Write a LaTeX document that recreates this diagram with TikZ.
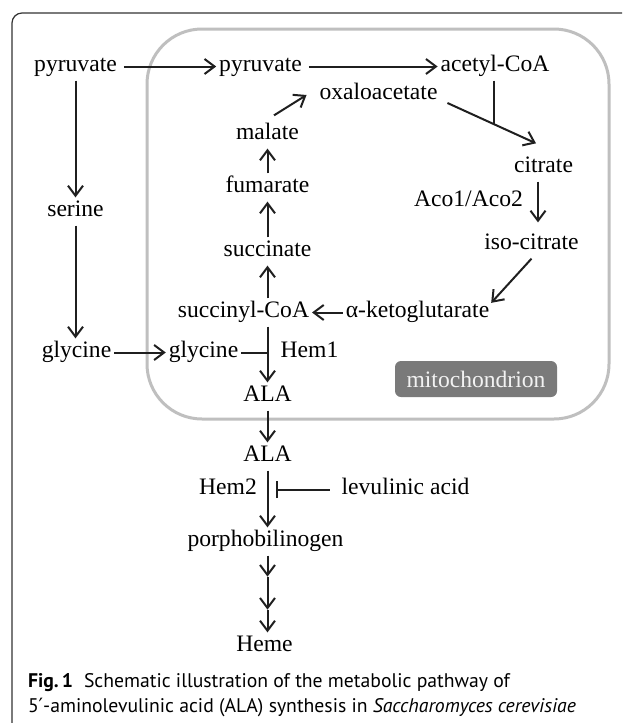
\documentclass[tikz,border=0pt]{standalone}
\usepackage{fontspec}
\setmainfont{Liberation Serif}
\newfontfamily\capfont{PT Sans}
\newfontfamily\primefont{DejaVu Sans}
\usetikzlibrary{calc,arrows.meta}

\tikzset{%
  >={Straight Barb[length=10pt,width=15pt]}, % open arrow heads
  inner sep=0pt,%
  outer sep=3pt,%
  metab/.style={text height=16.6pt,text depth=5.7pt},%
  reaction/.style={->,line width=2pt,draw=black!88},%
  plain/.style={line width=2pt,draw=black!88},%
  inhibit/.style={-{Bar[width=17pt]},line width=2pt,draw=black!88},%
  membrane/.style={draw=black!25,line width=3pt,rounded corners=55pt},%
  mitolabel/.style={fill=black!52,rounded corners=6pt,text=black!5,
    minimum width=162pt,minimum height=36pt},%
  frame/.style={draw=black!80,line width=1.2pt,rounded corners=10pt},%
  caption/.style={font=\capfont\fontsize{19.7}{25}\selectfont,outer sep=0pt,
    anchor=base west}%
}

\begin{document}
\begin{tikzpicture}[x=1pt,y=-1pt,font=\fontsize{23.6}{28}\selectfont]

%% page and outer frame

\useasboundingbox (0,0) rectangle (622,723);
\clip (0,0) rectangle (622,723);
\draw[frame] (12,780) -- (12,13) -- (680,13);

%% mitochondrion

\draw[membrane] (147,29) rectangle (609,419);
\node[mitolabel] (mito) at (476,379) {mitochondrion};

%% metabolites and enzymes

\node[metab] (pyr1) at (75.5,66.5) {pyruvate};
\node[metab] (pyr2) at (260.5,66.5) {pyruvate};
\node[metab] (acoa) at (495,66.5) {acetyl-CoA};
\node[metab] (oaa) at (378.5,94.5) {oxaloacetate};
\node[metab] (mal) at (267.5,134.5) {malate};
\node[metab] (fum) at (267.5,187.5) {fumarate};
\node[metab] (ser) at (75.5,211.5) {serine};
\node[metab] (cit) at (543.5,167.5) {citrate};
\node[metab] (aco) at (468.5,201.5) {Aco1/Aco2};
\node[metab] (icit) at (531.5,244.5) {iso-citrate};
\node[metab] (suc) at (267.5,251.5) {succinate};
\node[metab] (sccoa) at (243.5,312.5) {succinyl-CoA};
\node[metab] (akg) at (417.5,312.5) {α-ketoglutarate};
\node[metab] (gly1) at (76.5,352.5) {glycine};
\node[metab] (gly2) at (203.5,352.5) {glycine};
\node[metab] (hem1) at (309.5,352.5) {Hem1};
\node[metab] (ala1) at (267.5,396.5) {ALA};
\node[metab] (ala2) at (267.5,456.5) {ALA};
\node[metab] (hem2) at (228,489.5) {Hem2};
\node[metab] (lev) at (405.5,489.5) {levulinic acid};
\node[metab] (pbg) at (265.5,541.5) {porphobilinogen};
\node[metab] (heme) at (264.5,646.5) {Heme};

%% cytosol to mitochondrion

\draw[reaction,shorten <=4pt] (pyr1) -- (pyr2);
\draw[reaction,shorten <=4pt] (pyr2) -- (acoa);
\draw[reaction] (pyr1) -- (ser);
\draw[reaction] (ser) -- (ser |- gly1.north);
\draw[reaction] (gly1) -- (gly2);

%% TCA cycle

\draw[reaction] ($(oaa.east)+(7,8.5)$) -- coordinate[pos=0.52] (join)
    ($(cit.north)+(-7.5,-10)$);
\draw[plain] (acoa.south -| join) -- (join); % acetyl-CoA joins oxaloacetate
\draw[reaction,shorten >=8pt] ([xshift=-5.5pt]cit.south) --
    ([xshift=-5.5pt]cit.south |- icit.north);
\draw[reaction] (icit.south) -- ($(akg.north east)+(-1,4.5)$);
\draw[reaction] (akg) -- (sccoa);
\draw[reaction] (sccoa.north -| suc) -- (suc);
\draw[reaction] (suc) -- (fum);
\draw[reaction] (fum) -- (mal);
\draw[reaction] ($(mal.north)+(6.5,-5)$) -- ($(oaa.west)+(-10,0.5)$);

%% heme branch

\draw[reaction] (sccoa.south -| ala1) -- (ala1);
\draw[plain] (gly2) -- (gly2 -| ala1);
\draw[reaction] (ala1) -- (ala2);
\draw[reaction] (ala2) -- (ala2 |- pbg.north);
\coordinate (inh) at ($(ala2 |- lev)+(8.5,0)$);
\draw[inhibit] ([xshift=-9pt]lev.west) -- (inh);
\path (ala2 |- pbg.south) ++(0,21) coordinate (step1) ++(0,33) coordinate (step2);
\draw[reaction] (ala2 |- pbg.south) -- (step1);
\draw[reaction] (step1) -- (step2);
\draw[reaction] (step2) -- (ala2 |- heme.north);

%% caption

\node[caption] (cap1) at (28,687) {\textbf{Fig.\,1}\hspace{0.55em}Schematic
  illustration of the metabolic pathway of};
\node[caption] (cap2) at (28,712) {5{\primefont ′}-aminolevulinic acid (ALA)
  synthesis in \textit{Saccharomyces cerevisiae}};
\end{tikzpicture}
\end{document}
